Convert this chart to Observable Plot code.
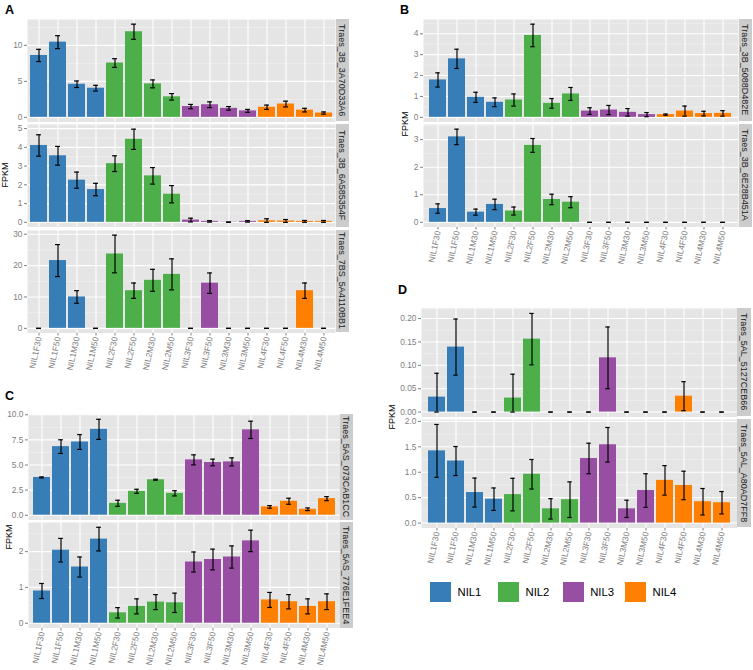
<!DOCTYPE html>
<html><head><meta charset="utf-8">
<script src="https://cdn.jsdelivr.net/npm/d3@7"></script>
<script src="https://cdn.jsdelivr.net/npm/@observablehq/plot@0.6"></script>
<style>
body{margin:0;background:#fff;}
#fig{position:relative;width:753px;height:670px;overflow:hidden;font-family:"Liberation Sans",Arial,sans-serif;}
#fig svg{overflow:visible !important;position:absolute;}
.strip{position:absolute;background:#cccccc;color:#1a1a1a;font-size:9px;display:flex;align-items:center;justify-content:center;}
.strip span{writing-mode:vertical-rl;white-space:nowrap;}
.ytitle{position:absolute;font-size:9px;color:#000;white-space:nowrap;transform:translate(-50%,-50%) rotate(-90deg);}
.letter{position:absolute;font-size:12.5px;font-weight:bold;color:#000;}
.lkey{position:absolute;width:21px;height:20px;}
.ltext{position:absolute;font-size:11.3px;color:#000;transform:translateY(-50%);}
</style>
</head><body>
<div id="fig"></div>
<script>
const categories = ["NIL1F30","NIL1F50","NIL1M30","NIL1M50","NIL2F30","NIL2F50","NIL2M30","NIL2M50","NIL3F30","NIL3F50","NIL3M30","NIL3M50","NIL4F30","NIL4F50","NIL4M30","NIL4M50"];
const groups = ["NIL1","NIL2","NIL3","NIL4"];
const groupColors = ["#377EB8","#4DAF4A","#984EA3","#FF7F00"];
const panelLetters = ["A","B","C","D"];
const yTitle = "FPKM";

const geneA1 = "Traes_3B_3A70D33A6";
const meanA1 = [8.6,10.45,4.6,4.05,7.55,11.9,4.65,2.85,1.5,1.75,1.25,0.9,1.4,1.85,1.0,0.6];
const seA1 = [0.85,0.9,0.45,0.4,0.6,1.05,0.55,0.45,0.3,0.4,0.25,0.2,0.3,0.4,0.25,0.15];
const ticksA1 = [0,5,10];
const tickLabelsA1 = ["0","5","10"];

const geneA2 = "Traes_3B_6A585354F";
const meanA2 = [4.1,3.55,2.25,1.75,3.13,4.43,2.48,1.5,0.12,0.05,0.01,0.05,0.08,0.07,0.05,0.05];
const seA2 = [0.57,0.5,0.43,0.33,0.42,0.54,0.44,0.46,0.1,0.04,0.01,0.04,0.11,0.08,0.05,0.05];
const ticksA2 = [0,1,2,3,4,5];
const tickLabelsA2 = ["0","1","2","3","4","5"];

const geneA3 = "Traes_7BS_5A4110BB1";
const meanA3 = [0,21.6,10.0,0,23.7,12.0,15.3,17.2,0,14.4,0,0,0,0,12.0,0];
const seA3 = [0,5.1,2.0,0,6.0,2.45,3.5,4.95,0,3.25,0,0,0,0,2.45,0];
const ticksA3 = [0,10,20,30];
const tickLabelsA3 = ["0","10","20","30"];

const geneB1 = "Traes_3B_5088D482E";
const meanB1 = [1.79,2.8,0.96,0.72,0.83,3.92,0.67,1.12,0.3,0.35,0.24,0.13,0.13,0.3,0.18,0.19];
const seB1 = [0.34,0.46,0.24,0.21,0.29,0.54,0.23,0.31,0.16,0.22,0.18,0.1,0.03,0.24,0.11,0.13];
const ticksB1 = [0,1,2,3,4];
const tickLabelsB1 = ["0","1","2","3","4"];

const geneB2 = "Traes_3B_6E28B451A";
const meanB2 = [0.5,3.1,0.37,0.65,0.41,2.79,0.83,0.73,0,0,0,0,0,0,0,0];
const seB2 = [0.17,0.28,0.11,0.19,0.145,0.25,0.19,0.2,0,0,0,0,0,0,0,0];
const ticksB2 = [0,1,2,3];
const tickLabelsB2 = ["0","1","2","3"];

const geneC1 = "Traes_5AS_073CAB1CC";
const meanC1 = [3.76,6.83,7.29,8.55,1.19,2.38,3.53,2.18,5.51,5.25,5.31,8.5,0.83,1.39,0.59,1.65];
const seC1 = [0.05,0.68,0.74,1.0,0.3,0.2,0.05,0.26,0.5,0.33,0.4,0.86,0.13,0.3,0.13,0.2];
const ticksC1 = [0,2.5,5,7.5,10];
const tickLabelsC1 = ["0.0","2.5","5.0","7.5","10.0"];

const geneC2 = "Traes_5AS_776E1FEE4";
const meanC2 = [0.9,2.04,1.57,2.35,0.29,0.47,0.59,0.57,1.71,1.78,1.85,2.3,0.65,0.6,0.47,0.6];
const seC2 = [0.21,0.33,0.28,0.33,0.145,0.21,0.21,0.27,0.28,0.29,0.31,0.3,0.21,0.2,0.21,0.22];
const ticksC2 = [0,1,2];
const tickLabelsC2 = ["0","1","2"];

const geneD1 = "Traes_5AL_5127CEB66";
const meanD1 = [0.032,0.139,0,0,0.030,0.156,0,0,0,0.116,0,0,0,0.034,0,0];
const seD1 = [0.051,0.06,0,0,0.051,0.055,0,0,0,0.066,0,0,0,0.031,0,0];
const ticksD1 = [0,0.05,0.1,0.15,0.2];
const tickLabelsD1 = ["0.00","0.05","0.10","0.15","0.20"];

const geneD2 = "Traes_5AL_A80AD7FF8";
const meanD2 = [1.42,1.22,0.6,0.47,0.56,0.96,0.28,0.46,1.27,1.54,0.28,0.64,0.84,0.74,0.42,0.4];
const seD2 = [0.52,0.285,0.285,0.22,0.32,0.29,0.2,0.35,0.3,0.34,0.17,0.33,0.29,0.28,0.26,0.22];
const ticksD2 = [0,0.5,1,1.5,2];
const tickLabelsD2 = ["0.0","0.5","1.0","1.5","2.0"];

// layout
const panels = [
  {letter: panelLetters[0], lx: 5, ly: 3, left: 27, right: 335, tops: [18.5, 124, 229.5], h: 102.5, ytx: 5, yty: 174.5,
   facets: [[geneA1, meanA1, seA1, ticksA1, tickLabelsA1], [geneA2, meanA2, seA2, ticksA2, tickLabelsA2], [geneA3, meanA3, seA3, ticksA3, tickLabelsA3]]},
  {letter: panelLetters[1], lx: 400, ly: 3, left: 423, right: 738, tops: [18.5, 124], h: 102.5, ytx: 405, yty: 124,
   facets: [[geneB1, meanB1, seB1, ticksB1, tickLabelsB1], [geneB2, meanB2, seB2, ticksB2, tickLabelsB2]]},
  {letter: panelLetters[2], lx: 5, ly: 389, left: 27.5, right: 339, tops: [414, 522], h: 105.5, ytx: 8.5, yty: 537,
   facets: [[geneC1, meanC1, seC1, ticksC1, tickLabelsC1], [geneC2, meanC2, seC2, ticksC2, tickLabelsC2]]},
  {letter: panelLetters[3], lx: 398, ly: 283, left: 420.5, right: 736.5, tops: [307.5, 418.5], h: 108.5, ytx: 391.5, yty: 417,
   facets: [[geneD1, meanD1, seD1, ticksD1, tickLabelsD1], [geneD2, meanD2, seD2, ticksD2, tickLabelsD2]]}
];

const fig = document.getElementById("fig");

function el(cls, css, text) {
  const d = document.createElement("div");
  d.className = cls;
  Object.assign(d.style, css);
  if (text != null) d.textContent = text;
  fig.appendChild(d);
  return d;
}

function drawFacet(p, f, top, last) {
  const [gene, mean, se, ticks, labels] = f;
  const rows = categories.map((c, i) => ({
    cat: c, group: c.slice(0, 4), mean: mean[i],
    lo: Math.max(0, mean[i] - se[i]), hi: mean[i] + se[i]
  }));
  const hi = d3.max(rows, d => d.hi);
  const dom = [-0.05 * hi, 1.05 * hi];
  const step = ticks[1] - ticks[0];
  const minor = [];
  for (let t = ticks[0] - step / 2; t <= dom[1]; t += step) if (t >= dom[0]) minor.push(t);
  const W = p.right - p.left;
  const mL = 40, mB = last ? 45 : 0;
  const bw = W / 16.2 * 0.9;
  const capInset = (bw - 5) / 2;
  const svg = Plot.plot({
    width: W + mL, height: p.h + mB,
    marginLeft: mL, marginRight: 0, marginTop: 0, marginBottom: mB,
    style: {fontSize: "8.4px", fontFamily: '"Liberation Sans", Arial, sans-serif', color: "#808080", background: "transparent", overflow: "visible"},
    x: {type: "band", domain: categories, paddingInner: 0.1, paddingOuter: 0.15,
        axis: last ? "bottom" : null, tickRotate: -78, tickSize: 3, tickPadding: 1, label: null},
    y: {domain: dom, ticks: ticks, tickFormat: d => labels[ticks.indexOf(d)], tickSize: 3, tickPadding: 2, label: null},
    color: {domain: groups, range: groupColors},
    marks: [
      Plot.frame({fill: "#e5e5e5", stroke: "none"}),
      Plot.ruleY(minor, {stroke: "#f4f4f4", strokeWidth: 0.6}),
      Plot.ruleY(ticks, {stroke: "#ffffff", strokeWidth: 1.1}),
      Plot.ruleX(categories, {stroke: "#ffffff", strokeWidth: 1.1}),
      Plot.barY(rows, {x: "cat", y1: 0, y2: "mean", fill: "group"}),
      Plot.ruleX(rows, {x: "cat", y1: "lo", y2: "hi", stroke: "#000", strokeWidth: 1.2}),
      Plot.tickY(rows, {x: "cat", y: "hi", stroke: "#000", strokeWidth: 1.2, insetLeft: capInset, insetRight: capInset}),
      Plot.tickY(rows, {x: "cat", y: "lo", stroke: "#000", strokeWidth: 1.2, insetLeft: capInset, insetRight: capInset})
    ]
  });
  svg.style.position = "absolute";
  svg.style.left = (p.left - mL) + "px";
  svg.style.top = top + "px";
  svg.style.maxWidth = "none";
  fig.appendChild(svg);
  const s = el("strip", {left: (p.right + 0.5) + "px", top: top + "px", width: "13.5px", height: p.h + "px"});
  const sp = document.createElement("span");
  sp.textContent = gene;
  s.appendChild(sp);
}

for (const p of panels) {
  p.facets.forEach((f, i) => drawFacet(p, f, p.tops[i], i === p.facets.length - 1));
  el("letter", {left: p.lx + "px", top: p.ly + "px"}, p.letter);
  el("ytitle", {left: p.ytx + "px", top: p.yty + "px"}, yTitle);
}

// legend
const legendX = [430, 498, 562.7, 625];
groups.forEach((g, i) => {
  el("lkey", {left: legendX[i] + "px", top: "582px", background: groupColors[i]});
  el("ltext", {left: (legendX[i] + 27.5) + "px", top: "592px"}, g);
});
</script>
</body></html>
